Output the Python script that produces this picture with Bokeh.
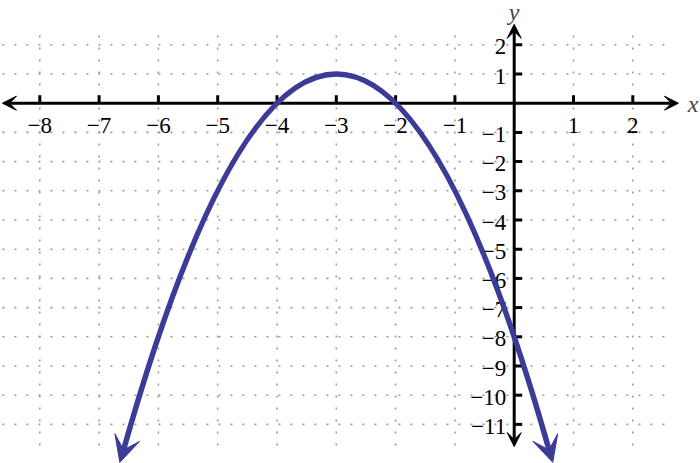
from bokeh.plotting import figure
from bokeh.models import Arrow, VeeHead, ColumnDataSource, Label
from bokeh.core.properties import value
from bokeh.embed import file_html
from bokeh.resources import INLINE

# ---- data ----
x_ticks = [-8, -7, -6, -5, -4, -3, -2, -1, 1, 2]
x_tick_labels = ["−8", "−7", "−6", "−5", "−4", "−3", "−2", "−1", "1", "2"]
y_ticks = [2, 1, -1, -2, -3, -4, -5, -6, -7, -8, -9, -10, -11]
y_tick_labels = ["2", "1", "−1", "−2", "−3", "−4", "−5", "−6", "−7", "−8", "−9", "−10", "−11"]
grid_x = [-8, -7, -6, -5, -4, -3, -2, -1, 1, 2]
grid_y = [2, 1, -1, -2, -3, -4, -5, -6, -7, -8, -9, -10, -11]
# parabola: left end, vertex, right end (y = -(x+3)^2 + 1)
curve_x = [-6.61, -3.0, 0.61]
curve_y = [-12.03, 1.0, -12.03]
# arrow tips of the curve
tip_x = [-6.65, 0.65]
tip_y = [-12.3, -12.3]
# axis extents
x_axis_ext = [-8.63, 2.77]
y_axis_ext = [-11.76, 2.70]
grid_x_ext = [-8.63, 2.60]
grid_y_ext = [-11.72, 2.32]

# ---- layout ----
W, H = 700, 463
PPX, PPY = 59.3, 29.2
x0 = -8 - 39.3 / PPX
y1 = 102.7 / PPY
x_range = (x0, x0 + W / PPX)
y_range = (y1 - H / PPY, y1)

CURVE = "#3b3b98"
FONT = "Liberation Serif"

p = figure(width=W, height=H, x_range=x_range, y_range=y_range,
           output_backend="svg", toolbar_location=None, min_border=0,
           x_axis_type=None, y_axis_type=None)
p.grid.visible = False
p.outline_line_color = None
p.background_fill_color = "white"
p.border_fill_color = "white"

# grid
hg = ColumnDataSource(dict(x0=[grid_x_ext[0]] * len(grid_y), x1=[grid_x_ext[1]] * len(grid_y),
                           y0=grid_y, y1=grid_y))
vg = ColumnDataSource(dict(x0=grid_x, x1=grid_x, y0=[grid_y_ext[0]] * len(grid_x),
                           y1=[grid_y_ext[1]] * len(grid_x)))
p.segment("x0", "y0", "x1", "y1", source=hg, line_color="#9a9a9a", line_width=1.6,
          line_dash="2 10", level="underlay")
p.segment("x0", "y0", "x1", "y1", source=vg, line_color="#9a9a9a", line_width=1.6,
          line_dash="2 10", level="underlay")

# axes with arrow heads
ax = Arrow(start=VeeHead(size=14, fill_color="black", line_color="black", line_width=1),
           end=VeeHead(size=14, fill_color="black", line_color="black", line_width=1),
           x_start=x_axis_ext[0], y_start=0, x_end=x_axis_ext[1], y_end=0,
           line_color="black", line_width=3, level="underlay")
ay = Arrow(start=VeeHead(size=14, fill_color="black", line_color="black", line_width=1),
           end=VeeHead(size=14, fill_color="black", line_color="black", line_width=1),
           x_start=0, y_start=y_axis_ext[0], x_end=0, y_end=y_axis_ext[1],
           line_color="black", line_width=3, level="underlay")
p.add_layout(ax)
p.add_layout(ay)

# tick marks (8 px long)
tl_y = 8 / PPY
tl_x = 8 / PPX
p.segment(x0=x_ticks, y0=[0] * len(x_ticks), x1=x_ticks, y1=[tl_y] * len(x_ticks),
          line_color="black", line_width=3)
p.segment(x0=[0] * len(y_ticks), y0=y_ticks, x1=[tl_x] * len(y_ticks), y1=y_ticks,
          line_color="black", line_width=3)

# tick labels
p.text(x=x_ticks, y=[0] * len(x_ticks), text=x_tick_labels, y_offset=22,
       text_align="center", text_baseline="middle", text_font=value(FONT),
       text_font_size="23px", text_color="black")
p.text(x=[0] * len(y_ticks), y=y_ticks, text=y_tick_labels, x_offset=-8, y_offset=2,
       text_align="right", text_baseline="middle", text_font=value(FONT),
       text_font_size="23px", text_color="black")

# axis names
p.add_layout(Label(x=x_axis_ext[1], y=0, x_offset=20, y_offset=-1, text="x",
                   text_align="right", text_baseline="middle", text_font=FONT,
                   text_font_style="italic", text_font_size="24px"))
p.add_layout(Label(x=0, y=y_axis_ext[1], y_offset=12, text="y",
                   text_align="center", text_baseline="alphabetic", text_font=FONT,
                   text_font_style="italic", text_font_size="24px"))

# the parabola as a quadratic Bezier (exact parabola)
cy = 2 * curve_y[1] - (curve_y[0] + curve_y[2]) / 2
p.quadratic(x0=[curve_x[0]], y0=[curve_y[0]], x1=[curve_x[2]], y1=[curve_y[2]],
            cx=[curve_x[1]], cy=[cy], line_color=CURVE, line_width=5.5)

for i, j in ((0, 0), (2, 1)):
    p.add_layout(Arrow(end=VeeHead(size=26, fill_color=CURVE, line_color=CURVE, line_width=1),
                       x_start=curve_x[i], y_start=curve_y[i], x_end=tip_x[j], y_end=tip_y[j],
                       line_alpha=0, line_width=0))

open("out.html", "w").write(file_html(p, INLINE))
